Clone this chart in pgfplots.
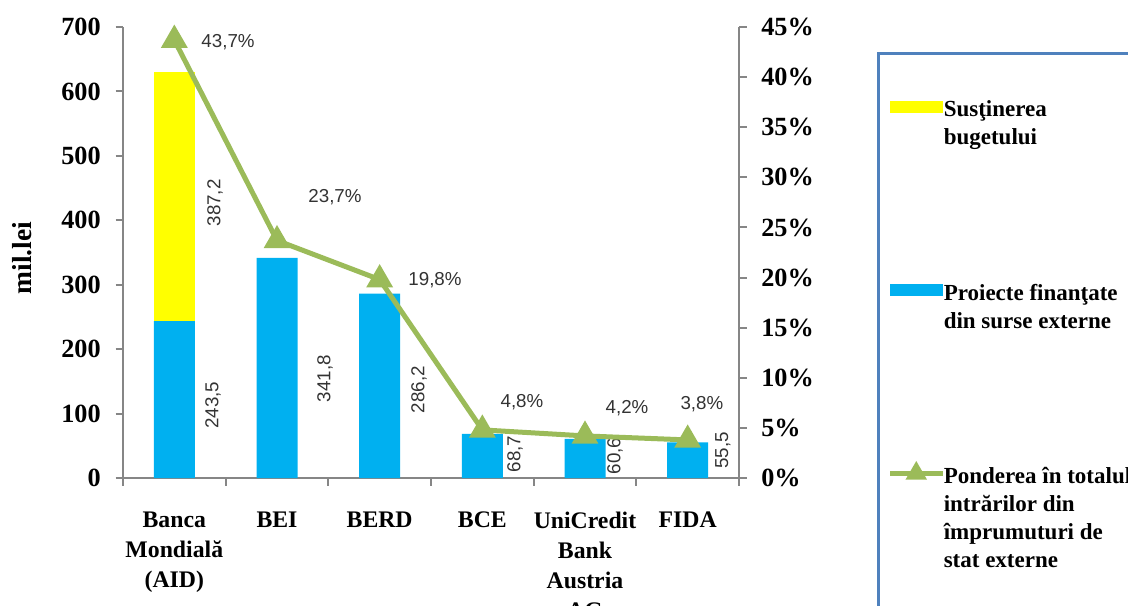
\documentclass[border=0pt]{standalone}
\usepackage{fontspec}
\setmainfont{Liberation Serif}
\newfontfamily\lab{Liberation Sans}
\usepackage{pgfplots}
\pgfplotsset{compat=1.18}
\definecolor{barYellow}{HTML}{FFFF00}
\definecolor{barBlue}{HTML}{00B0F0}
\definecolor{lineGreen}{HTML}{9BBB59}
\definecolor{axGray}{HTML}{868686}
\definecolor{frameBlue}{HTML}{4F81BD}

\pgfplotsset{
  base/.style={
    at={(49.2pt,50.8pt)}, anchor=south west,
    scale only axis, width=246.4pt, height=180.4pt,
    xmin=-0.5, xmax=5.5, clip=false,
    /pgf/number format/assume math mode=true,
    tick label style={font=\fontsize{10.5}{12}\selectfont\bfseries},
    axis line style={axGray, line width=0.8pt},
    tick style={axGray, line width=0.8pt},
    tick align=outside, major tick length=3pt,
  },
  barleg/.style={legend image code/.code={\fill[##1, draw=none] (0pt,1.6pt) rectangle (21pt,6.4pt);}},
  lineleg/.style={legend image code/.code={\draw[mark repeat=2, mark phase=2, ##1, mark size=3pt]
    plot coordinates {(0pt,4pt) (10.5pt,4pt) (21pt,4pt)};}},
}
\tikzset{lbl/.style={font=\lab\fontsize{7.5}{9}\selectfont, text=black!80}}

\begin{document}
\begin{tikzpicture}
\begin{axis}[base,
    ybar stacked, bar width=16.4pt,
    ymin=0, ymax=700, ytick={0,100,...,700},
    y tick label style={xshift=-2.4pt},
    axis y line*=left, axis x line*=bottom,
    xtick={-0.5,0.5,...,5.5},
    xticklabels={{Banca\\Mondială\\(AID)},BEI,BERD,BCE,{UniCredit\\Bank\\Austria\\AG},FIDA,{}},
    x tick label style={align=center, anchor=north, xshift=20.53pt, yshift=-7pt,
      font=\fontsize{9.5}{12}\selectfont\bfseries},
    ylabel={mil.lei},
    every axis y label/.style={at={(rel axis cs:-0.164,0.488)}, rotate=90, anchor=center,
      font=\fontsize{11}{12}\selectfont\bfseries},
]
\addplot[fill=barBlue, draw=none] coordinates {
  (0,243.5) (1,341.8) (2,286.2) (3,68.7) (4,60.6) (5,55.5)};
\addplot[fill=barYellow, draw=none] coordinates {
  (0,387.2) (1,0) (2,0) (3,0) (4,0) (5,0)};
\node[lbl, rotate=90] at (axis cs:0.396,427) {387,2};
\node[lbl, rotate=90] at (axis cs:0.377,113) {243,5};
\node[lbl, rotate=90] at (axis cs:1.467,154) {341,8};
\node[lbl, rotate=90] at (axis cs:2.383,137) {286,2};
\node[lbl, rotate=90] at (axis cs:3.318,37) {68,7};
\node[lbl, rotate=90] at (axis cs:4.292,34) {60,6};
\node[lbl, rotate=90] at (axis cs:5.344,43) {55,5};
\end{axis}

\begin{axis}[base,
    ymin=0, ymax=45, ytick={0,5,...,45},
    yticklabel={\pgfmathprintnumber{\tick}\%},
    y tick label style={xshift=2.4pt},
    axis y line*=right, axis x line=none,
    legend style={at={(1.2403,0.849)}, anchor=north west, draw=none, fill=none,
      inner sep=0pt, row sep=61.4pt, column sep=-2.5pt,
      cells={anchor=base west, inner sep=0pt},
      font=\fontsize{9.2}{11.2}\selectfont\bfseries},
]
\addlegendimage{barleg, fill=barYellow}
\addlegendentry{\parbox[t]{110pt}{Susţinerea\\bugetului}}
\addlegendimage{barleg, fill=barBlue}
\addlegendentry{\parbox[t]{110pt}{Proiecte finanţate\\din surse externe}}
\addplot[lineGreen, line width=2pt, mark=triangle*, mark size=4.2pt, lineleg]
  coordinates {(0,43.7) (1,23.7) (2,19.8) (3,4.8) (4,4.2) (5,3.8)};
\addlegendentry{\parbox[t]{110pt}{Ponderea în totalul\\intrărilor din\\împrumuturi de\\stat externe}}
\node[lbl] at (axis cs:0.523,43.5) {43,7\%};
\node[lbl] at (axis cs:1.565,28.0) {23,7\%};
\node[lbl] at (axis cs:2.539,19.76) {19,8\%};
\node[lbl] at (axis cs:3.386,7.58) {4,8\%};
\node[lbl] at (axis cs:4.409,6.99) {4,2\%};
\node[lbl] at (axis cs:5.139,7.39) {3,8\%};
\end{axis}

\draw[frameBlue, line width=1.2pt] (351.2pt,-10pt) -- (351.2pt,220.8pt) -- (470pt,220.8pt);
\pgfresetboundingbox
\useasboundingbox (0,0) rectangle (451.2pt,242pt);
\end{tikzpicture}
\end{document}
